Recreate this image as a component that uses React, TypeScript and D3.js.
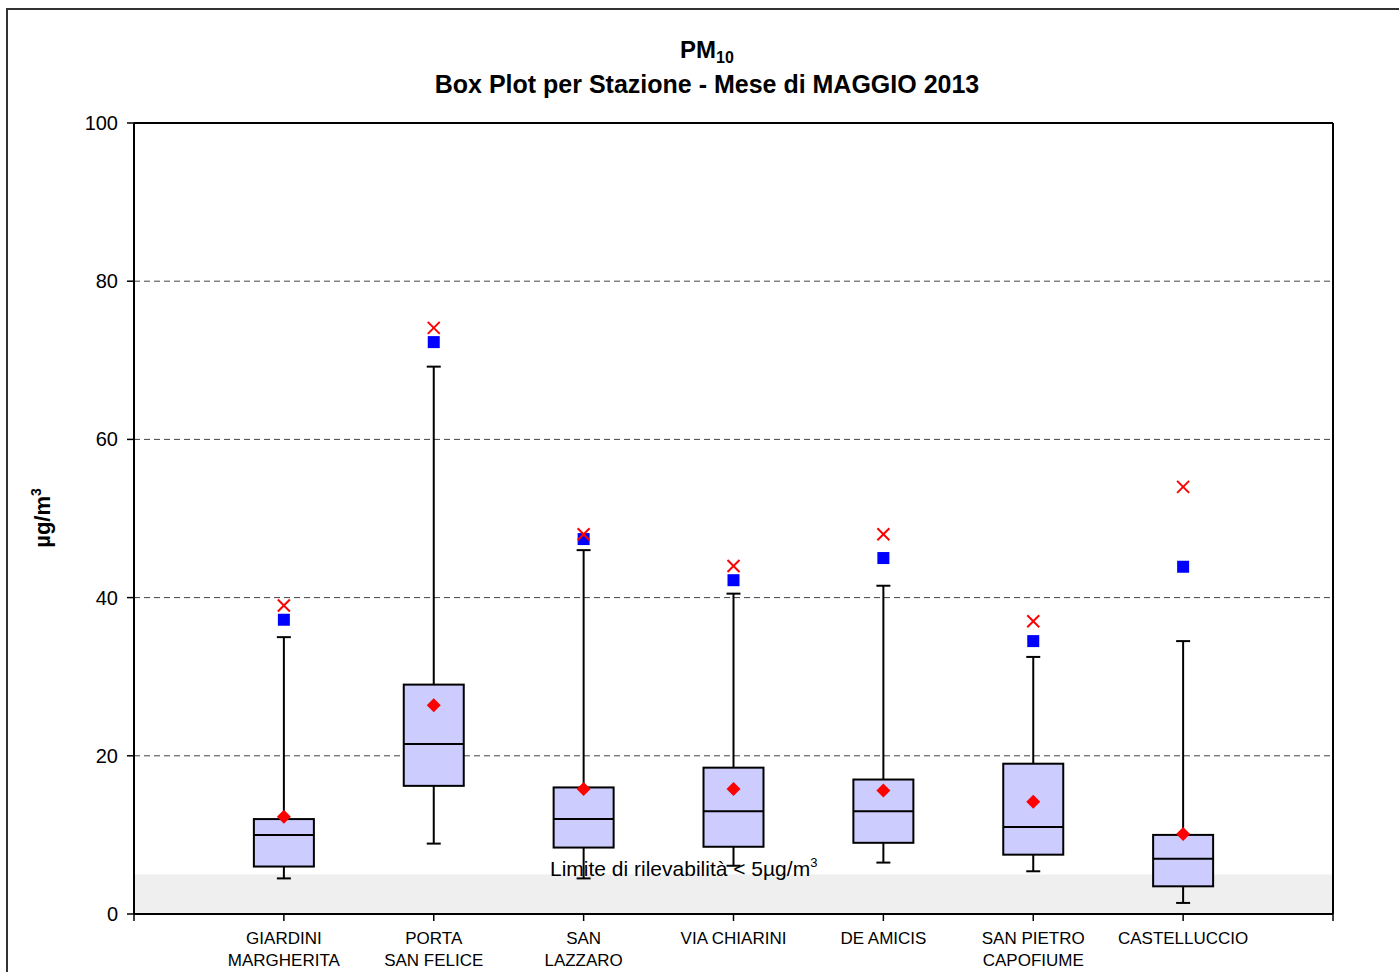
import React from "react";
import * as d3 from "d3";

const stations = [
  ["GIARDINI", "MARGHERITA"],
  ["PORTA", "SAN FELICE"],
  ["SAN", "LAZZARO"],
  ["VIA CHIARINI"],
  ["DE AMICIS"],
  ["SAN PIETRO", "CAPOFIUME"],
  ["CASTELLUCCIO"],
];
const whiskerLow = [4.5, 8.9, 4.5, 6.1, 6.5, 5.4, 1.4];
const q1 = [6.0, 16.2, 8.4, 8.5, 9.0, 7.5, 3.5];
const median = [10.0, 21.5, 12.0, 13.0, 13.0, 11.0, 7.0];
const q3 = [12.0, 29.0, 16.0, 18.5, 17.0, 19.0, 10.0];
const whiskerHigh = [35.0, 69.2, 46.0, 40.5, 41.5, 32.5, 34.5];
const means = [12.3, 26.4, 15.8, 15.8, 15.6, 14.2, 10.1];
const p98 = [37.2, 72.3, 47.4, 42.2, 45.0, 34.5, 43.9];
const maxima = [39.0, 74.1, 48.0, 44.0, 48.0, 37.0, 54.0];
const yTicks = [0, 20, 40, 60, 80, 100];
const gridValues = [20, 40, 60, 80];
const detectionLimit = 5;

export default function App() {
  const left = 134, right = 1333, top = 123, bottom = 914;
  const y = d3.scaleLinear().domain([0, 100]).range([bottom, top]);
  const x = d3.scaleLinear().domain([-1, stations.length]).range([left, right]);
  const boxW = 60, capW = 14;
  const font = "Liberation Sans, Arial, sans-serif";
  const tickXs = [-1, ...stations.map((_, i) => i), stations.length];
  return (
    <svg width={1399} height={972} style={{ position: "absolute", left: 0, top: 0, background: "#fff" }} fontFamily={font}>
      <rect x={7} y={9} width={1500} height={1100} fill="#fff" stroke="#333" strokeWidth={2} />
      <text x={707} y={58} textAnchor="middle" fontWeight="bold" fontSize={24}>
        PM<tspan fontSize={16} dy={5}>10</tspan>
      </text>
      <text x={707} y={93} textAnchor="middle" fontWeight="bold" fontSize={25}>
        Box Plot per Stazione - Mese di MAGGIO 2013
      </text>
      {/* detection limit band */}
      <rect x={left} y={y(detectionLimit)} width={right - left} height={y(0) - y(detectionLimit)} fill="#efefef" />
      {gridValues.map((v) => (
        <line key={v} x1={left} x2={right} y1={y(v)} y2={y(v)} stroke="#444" strokeWidth={1} strokeDasharray="6,4" />
      ))}
      {/* frame */}
      <line x1={left} x2={right} y1={top} y2={top} stroke="#000" strokeWidth={2} />
      <line x1={right} x2={right} y1={top} y2={bottom} stroke="#000" strokeWidth={2} />
      <line x1={left} x2={left} y1={top} y2={bottom} stroke="#000" strokeWidth={2} />
      <line x1={left} x2={right} y1={bottom} y2={bottom} stroke="#000" strokeWidth={2} />
      {yTicks.map((v) => (
        <g key={v}>
          <line x1={left - 7} x2={left} y1={y(v)} y2={y(v)} stroke="#000" strokeWidth={1.5} />
          <text x={118} y={y(v) + 7} textAnchor="end" fontSize={20}>{v}</text>
        </g>
      ))}
      {tickXs.map((t) => (
        <line key={t} x1={x(t)} x2={x(t)} y1={bottom} y2={bottom + 7} stroke="#000" strokeWidth={1.5} />
      ))}
      <text transform={`translate(50,${518}) rotate(-90)`} textAnchor="middle" fontWeight="bold" fontSize={22}>
        µg/m<tspan fontSize={14} dy={-9}>3</tspan>
      </text>
      {stations.map((lines, i) => {
        const cx = x(i);
        return (
          <g key={i}>
            <line x1={cx} x2={cx} y1={y(whiskerHigh[i])} y2={y(q3[i])} stroke="#000" strokeWidth={2} />
            <line x1={cx} x2={cx} y1={y(q1[i])} y2={y(whiskerLow[i])} stroke="#000" strokeWidth={2} />
            <line x1={cx - capW / 2} x2={cx + capW / 2} y1={y(whiskerHigh[i])} y2={y(whiskerHigh[i])} stroke="#000" strokeWidth={2} />
            <line x1={cx - capW / 2} x2={cx + capW / 2} y1={y(whiskerLow[i])} y2={y(whiskerLow[i])} stroke="#000" strokeWidth={2} />
            <rect x={cx - boxW / 2} y={y(q3[i])} width={boxW} height={y(q1[i]) - y(q3[i])} fill="#ccccff" stroke="#000" strokeWidth={2} />
            <line x1={cx - boxW / 2} x2={cx + boxW / 2} y1={y(median[i])} y2={y(median[i])} stroke="#000" strokeWidth={2} />
            <path d={`M${cx},${y(means[i]) - 7} L${cx + 7},${y(means[i])} L${cx},${y(means[i]) + 7} L${cx - 7},${y(means[i])} Z`} fill="#ff0000" />
            <rect x={cx - 6} y={y(p98[i]) - 6} width={12} height={12} fill="#0000ff" />
            <g stroke="#ff0000" strokeWidth={2}>
              <line x1={cx - 6} x2={cx + 6} y1={y(maxima[i]) - 6} y2={y(maxima[i]) + 6} />
              <line x1={cx - 6} x2={cx + 6} y1={y(maxima[i]) + 6} y2={y(maxima[i]) - 6} />
            </g>
            {lines.map((l, k) => (
              <text key={k} x={cx} y={944 + k * 22} textAnchor="middle" fontSize={17}>{l}</text>
            ))}
          </g>
        );
      })}
      <text x={550} y={876} fontSize={21}>
        Limite di rilevabilità &lt; 5µg/m<tspan fontSize={13} dy={-9}>3</tspan>
      </text>
    </svg>
  );
}
